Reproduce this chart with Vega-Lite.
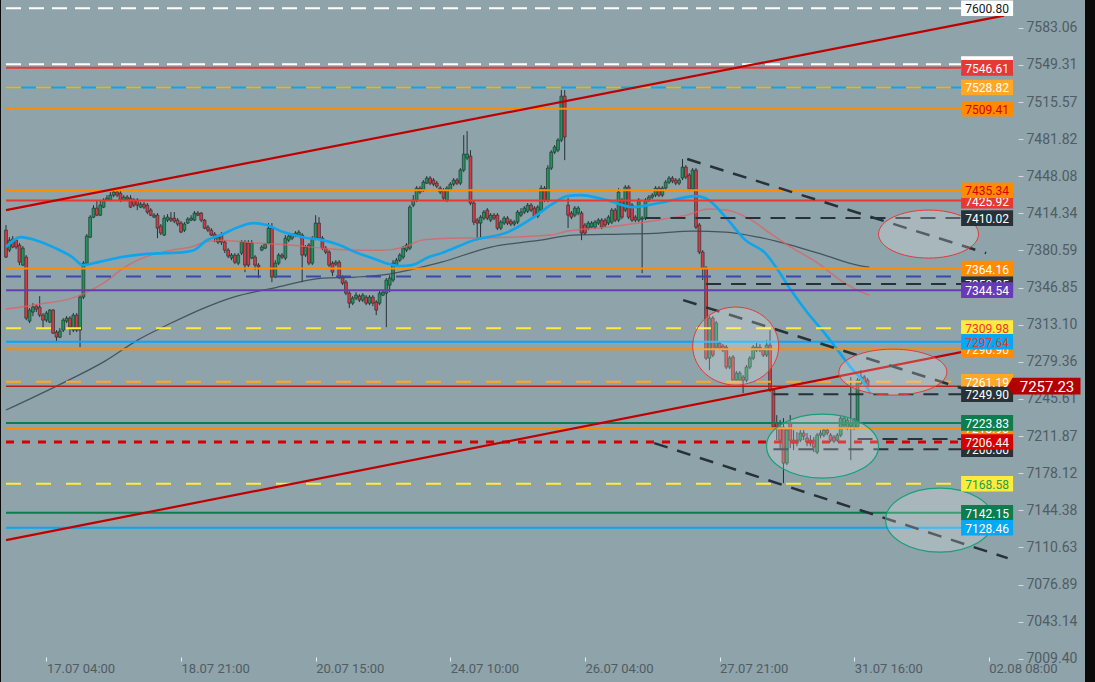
{
"$schema":"https://vega.github.io/schema/vega-lite/v6.json",
"width":1095,"height":682,
"autosize":{"type":"fit","contains":"padding"},
"padding":{"left":0,"top":0,"right":10,"bottom":0},
"background":"#0a0a0a",
"config":{"view":{"stroke":null,"fill":"#8fa3aa"}},
"resolve":{"scale":{"fill":"independent"}},
"datasets":{
"candles":[
{"i":0,"o":7399.1,"h":7403.7,"l":7373.7,"c":7374.6},
{"i":1,"o":7380.9,"h":7392.7,"l":7379.1,"c":7390.0},
{"i":2,"o":7390.9,"h":7393.7,"l":7382.7,"c":7383.7},
{"i":3,"o":7390.0,"h":7391.8,"l":7381.8,"c":7383.7},
{"i":4,"o":7385.5,"h":7387.3,"l":7367.3,"c":7370.0},
{"i":5,"o":7367.3,"h":7384.6,"l":7366.4,"c":7382.7},
{"i":6,"o":7374.6,"h":7376.4,"l":7317.3,"c":7319.1},
{"i":7,"o":7316.4,"h":7328.2,"l":7314.6,"c":7326.4},
{"i":8,"o":7324.6,"h":7332.7,"l":7320.9,"c":7329.1},
{"i":9,"o":7330.0,"h":7331.8,"l":7324.6,"c":7327.3},
{"i":10,"o":7329.1,"h":7339.1,"l":7320.0,"c":7321.8},
{"i":11,"o":7321.8,"h":7323.7,"l":7310.0,"c":7317.3},
{"i":12,"o":7317.3,"h":7325.5,"l":7315.5,"c":7323.7},
{"i":13,"o":7315.5,"h":7327.3,"l":7314.6,"c":7326.4},
{"i":14,"o":7326.4,"h":7327.3,"l":7304.6,"c":7305.5},
{"i":15,"o":7306.4,"h":7308.2,"l":7297.3,"c":7301.8},
{"i":16,"o":7301.8,"h":7310.0,"l":7300.9,"c":7307.3},
{"i":17,"o":7308.2,"h":7319.1,"l":7306.4,"c":7317.3},
{"i":18,"o":7316.4,"h":7320.9,"l":7314.6,"c":7319.1},
{"i":19,"o":7319.1,"h":7320.9,"l":7303.7,"c":7310.9},
{"i":20,"o":7308.2,"h":7323.7,"l":7306.4,"c":7321.8},
{"i":21,"o":7321.8,"h":7323.7,"l":7306.4,"c":7308.2},
{"i":22,"o":7308.2,"h":7340.0,"l":7292.7,"c":7338.2},
{"i":23,"o":7338.2,"h":7370.9,"l":7336.4,"c":7369.1},
{"i":24,"o":7369.1,"h":7395.5,"l":7368.2,"c":7393.7},
{"i":25,"o":7392.7,"h":7412.7,"l":7391.8,"c":7410.9},
{"i":26,"o":7410.9,"h":7421.8,"l":7410.0,"c":7419.1},
{"i":27,"o":7419.1,"h":7426.4,"l":7411.8,"c":7412.7},
{"i":28,"o":7412.7,"h":7426.4,"l":7411.8,"c":7421.8},
{"i":29,"o":7420.0,"h":7428.2,"l":7419.1,"c":7426.4},
{"i":30,"o":7426.4,"h":7430.9,"l":7425.5,"c":7428.2},
{"i":31,"o":7426.4,"h":7433.7,"l":7425.5,"c":7430.9},
{"i":32,"o":7430.9,"h":7435.5,"l":7429.1,"c":7433.7},
{"i":33,"o":7433.7,"h":7435.5,"l":7429.1,"c":7430.9},
{"i":34,"o":7432.7,"h":7434.6,"l":7424.6,"c":7426.4},
{"i":35,"o":7426.4,"h":7430.9,"l":7425.5,"c":7429.1},
{"i":36,"o":7429.1,"h":7430.9,"l":7425.5,"c":7427.3},
{"i":37,"o":7428.2,"h":7430.9,"l":7419.1,"c":7420.0},
{"i":38,"o":7426.4,"h":7428.2,"l":7420.0,"c":7421.8},
{"i":39,"o":7426.4,"h":7428.2,"l":7417.3,"c":7421.8},
{"i":40,"o":7420.0,"h":7424.6,"l":7419.1,"c":7422.7},
{"i":41,"o":7422.7,"h":7424.6,"l":7418.2,"c":7420.0},
{"i":42,"o":7421.8,"h":7423.7,"l":7413.7,"c":7415.5},
{"i":43,"o":7417.3,"h":7419.1,"l":7411.8,"c":7412.7},
{"i":44,"o":7410.9,"h":7414.6,"l":7410.0,"c":7412.7},
{"i":45,"o":7412.7,"h":7414.6,"l":7391.8,"c":7400.9},
{"i":46,"o":7402.7,"h":7404.6,"l":7394.6,"c":7396.4},
{"i":47,"o":7394.6,"h":7412.7,"l":7393.7,"c":7410.0},
{"i":48,"o":7408.2,"h":7413.7,"l":7406.4,"c":7410.9},
{"i":49,"o":7410.0,"h":7415.5,"l":7406.4,"c":7408.2},
{"i":50,"o":7410.0,"h":7415.5,"l":7405.5,"c":7407.3},
{"i":51,"o":7408.2,"h":7410.0,"l":7402.7,"c":7404.6},
{"i":52,"o":7405.5,"h":7407.3,"l":7396.4,"c":7397.3},
{"i":53,"o":7399.1,"h":7406.4,"l":7397.3,"c":7404.6},
{"i":54,"o":7405.5,"h":7410.9,"l":7404.6,"c":7409.1},
{"i":55,"o":7408.2,"h":7412.7,"l":7407.3,"c":7410.0},
{"i":56,"o":7408.2,"h":7416.4,"l":7407.3,"c":7414.6},
{"i":57,"o":7414.6,"h":7416.4,"l":7411.8,"c":7412.7},
{"i":58,"o":7414.6,"h":7415.5,"l":7406.4,"c":7408.2},
{"i":59,"o":7408.2,"h":7409.1,"l":7400.0,"c":7400.9},
{"i":60,"o":7401.8,"h":7403.7,"l":7397.3,"c":7399.1},
{"i":61,"o":7399.1,"h":7400.9,"l":7393.7,"c":7394.6},
{"i":62,"o":7395.5,"h":7397.3,"l":7388.2,"c":7391.8},
{"i":63,"o":7388.2,"h":7394.6,"l":7386.4,"c":7392.7},
{"i":64,"o":7394.6,"h":7397.3,"l":7385.5,"c":7388.2},
{"i":65,"o":7388.2,"h":7390.0,"l":7378.2,"c":7380.9},
{"i":66,"o":7380.9,"h":7382.7,"l":7373.7,"c":7375.5},
{"i":67,"o":7373.7,"h":7378.2,"l":7371.8,"c":7376.4},
{"i":68,"o":7376.4,"h":7378.2,"l":7368.2,"c":7370.0},
{"i":69,"o":7369.1,"h":7378.2,"l":7367.3,"c":7376.4},
{"i":70,"o":7378.2,"h":7390.0,"l":7376.4,"c":7388.2},
{"i":71,"o":7388.2,"h":7390.0,"l":7360.9,"c":7367.3},
{"i":72,"o":7387.3,"h":7390.0,"l":7365.5,"c":7367.3},
{"i":73,"o":7373.7,"h":7390.0,"l":7372.7,"c":7387.3},
{"i":74,"o":7374.6,"h":7376.4,"l":7362.7,"c":7367.3},
{"i":75,"o":7367.3,"h":7369.1,"l":7355.5,"c":7365.5},
{"i":76,"o":7380.9,"h":7385.5,"l":7380.0,"c":7383.7},
{"i":77,"o":7382.7,"h":7387.3,"l":7381.8,"c":7386.4},
{"i":78,"o":7387.3,"h":7405.5,"l":7386.4,"c":7400.9},
{"i":79,"o":7400.9,"h":7405.5,"l":7351.8,"c":7356.4},
{"i":80,"o":7356.4,"h":7371.8,"l":7355.5,"c":7369.1},
{"i":81,"o":7369.1,"h":7378.2,"l":7367.3,"c":7376.4},
{"i":82,"o":7376.4,"h":7378.2,"l":7372.7,"c":7374.6},
{"i":83,"o":7373.7,"h":7394.6,"l":7371.8,"c":7391.8},
{"i":84,"o":7390.0,"h":7395.5,"l":7388.2,"c":7393.7},
{"i":85,"o":7391.8,"h":7396.4,"l":7390.0,"c":7394.6},
{"i":86,"o":7396.4,"h":7398.2,"l":7392.7,"c":7394.6},
{"i":87,"o":7394.6,"h":7399.1,"l":7392.7,"c":7397.3},
{"i":88,"o":7394.6,"h":7396.4,"l":7351.8,"c":7376.4},
{"i":89,"o":7376.4,"h":7385.5,"l":7374.6,"c":7383.7},
{"i":90,"o":7385.5,"h":7387.3,"l":7367.3,"c":7369.1},
{"i":91,"o":7369.1,"h":7393.7,"l":7367.3,"c":7391.8},
{"i":92,"o":7391.8,"h":7412.7,"l":7390.0,"c":7405.5},
{"i":93,"o":7405.5,"h":7410.9,"l":7390.0,"c":7391.8},
{"i":94,"o":7391.8,"h":7393.7,"l":7380.9,"c":7382.7},
{"i":95,"o":7382.7,"h":7384.6,"l":7377.3,"c":7379.1},
{"i":96,"o":7379.1,"h":7380.9,"l":7365.5,"c":7367.3},
{"i":97,"o":7369.1,"h":7370.9,"l":7357.3,"c":7360.9},
{"i":98,"o":7368.2,"h":7371.8,"l":7366.4,"c":7370.0},
{"i":99,"o":7370.0,"h":7371.8,"l":7354.6,"c":7356.4},
{"i":100,"o":7356.4,"h":7358.2,"l":7349.1,"c":7350.9},
{"i":101,"o":7351.8,"h":7353.7,"l":7340.0,"c":7341.8},
{"i":102,"o":7341.8,"h":7343.7,"l":7328.2,"c":7332.7},
{"i":103,"o":7332.7,"h":7339.1,"l":7330.9,"c":7337.3},
{"i":104,"o":7337.3,"h":7342.7,"l":7335.5,"c":7340.0},
{"i":105,"o":7339.1,"h":7340.9,"l":7333.7,"c":7335.5},
{"i":106,"o":7335.5,"h":7341.8,"l":7333.7,"c":7340.0},
{"i":107,"o":7338.2,"h":7340.0,"l":7330.9,"c":7332.7},
{"i":108,"o":7332.7,"h":7340.0,"l":7330.9,"c":7338.2},
{"i":109,"o":7338.2,"h":7340.0,"l":7330.0,"c":7332.7},
{"i":110,"o":7333.7,"h":7335.5,"l":7321.8,"c":7326.4},
{"i":111,"o":7332.7,"h":7344.6,"l":7330.9,"c":7341.8},
{"i":112,"o":7340.0,"h":7344.6,"l":7339.1,"c":7342.7},
{"i":113,"o":7341.8,"h":7355.5,"l":7310.9,"c":7353.7},
{"i":114,"o":7349.1,"h":7358.2,"l":7342.7,"c":7355.5},
{"i":115,"o":7353.7,"h":7371.8,"l":7351.8,"c":7369.1},
{"i":116,"o":7367.3,"h":7373.7,"l":7365.5,"c":7371.8},
{"i":117,"o":7371.8,"h":7378.2,"l":7370.0,"c":7376.4},
{"i":118,"o":7374.6,"h":7384.6,"l":7372.7,"c":7382.7},
{"i":119,"o":7380.9,"h":7387.3,"l":7379.1,"c":7385.5},
{"i":120,"o":7382.7,"h":7421.8,"l":7380.9,"c":7420.0},
{"i":121,"o":7421.8,"h":7430.9,"l":7420.0,"c":7426.4},
{"i":122,"o":7426.4,"h":7439.1,"l":7424.6,"c":7437.3},
{"i":123,"o":7437.3,"h":7439.1,"l":7431.8,"c":7433.7},
{"i":124,"o":7435.5,"h":7444.6,"l":7433.7,"c":7442.7},
{"i":125,"o":7441.8,"h":7448.2,"l":7440.9,"c":7446.4},
{"i":126,"o":7446.4,"h":7448.2,"l":7440.0,"c":7441.8},
{"i":127,"o":7444.6,"h":7446.4,"l":7439.1,"c":7440.9},
{"i":128,"o":7441.8,"h":7443.7,"l":7437.3,"c":7439.1},
{"i":129,"o":7437.3,"h":7439.1,"l":7431.8,"c":7433.7},
{"i":130,"o":7435.5,"h":7437.3,"l":7426.4,"c":7428.2},
{"i":131,"o":7426.4,"h":7439.1,"l":7424.6,"c":7437.3},
{"i":132,"o":7435.5,"h":7442.7,"l":7434.6,"c":7440.9},
{"i":133,"o":7440.9,"h":7446.4,"l":7439.1,"c":7444.6},
{"i":134,"o":7444.6,"h":7446.4,"l":7440.0,"c":7441.8},
{"i":135,"o":7441.8,"h":7455.5,"l":7440.0,"c":7453.7},
{"i":136,"o":7453.7,"h":7485.5,"l":7451.8,"c":7468.2},
{"i":137,"o":7464.6,"h":7489.1,"l":7462.7,"c":7468.2},
{"i":138,"o":7466.4,"h":7471.8,"l":7421.8,"c":7423.7},
{"i":139,"o":7423.7,"h":7426.4,"l":7403.7,"c":7406.4},
{"i":140,"o":7408.2,"h":7410.0,"l":7390.0,"c":7405.5},
{"i":141,"o":7405.5,"h":7412.7,"l":7392.7,"c":7410.9},
{"i":142,"o":7410.0,"h":7417.3,"l":7408.2,"c":7415.5},
{"i":143,"o":7417.3,"h":7419.1,"l":7408.2,"c":7410.0},
{"i":144,"o":7408.2,"h":7414.6,"l":7406.4,"c":7412.7},
{"i":145,"o":7412.7,"h":7414.6,"l":7408.2,"c":7410.0},
{"i":146,"o":7412.7,"h":7414.6,"l":7399.1,"c":7400.9},
{"i":147,"o":7400.9,"h":7408.2,"l":7399.1,"c":7406.4},
{"i":148,"o":7405.5,"h":7411.8,"l":7403.7,"c":7410.0},
{"i":149,"o":7410.0,"h":7411.8,"l":7403.7,"c":7405.5},
{"i":150,"o":7407.3,"h":7409.1,"l":7402.7,"c":7404.6},
{"i":151,"o":7404.6,"h":7408.2,"l":7402.7,"c":7406.4},
{"i":152,"o":7406.4,"h":7417.3,"l":7404.6,"c":7415.5},
{"i":153,"o":7412.7,"h":7419.1,"l":7410.9,"c":7415.5},
{"i":154,"o":7415.5,"h":7420.9,"l":7413.7,"c":7419.1},
{"i":155,"o":7416.4,"h":7423.7,"l":7414.6,"c":7421.8},
{"i":156,"o":7421.8,"h":7423.7,"l":7415.5,"c":7417.3},
{"i":157,"o":7419.1,"h":7420.9,"l":7410.0,"c":7411.8},
{"i":158,"o":7411.8,"h":7421.8,"l":7410.0,"c":7420.0},
{"i":159,"o":7417.3,"h":7440.0,"l":7415.5,"c":7437.3},
{"i":160,"o":7437.3,"h":7439.1,"l":7424.6,"c":7426.4},
{"i":161,"o":7426.4,"h":7458.2,"l":7424.6,"c":7455.5},
{"i":162,"o":7455.5,"h":7471.8,"l":7453.7,"c":7470.0},
{"i":163,"o":7470.0,"h":7476.4,"l":7468.2,"c":7474.6},
{"i":164,"o":7471.8,"h":7482.7,"l":7470.0,"c":7480.9},
{"i":165,"o":7480.9,"h":7526.4,"l":7479.1,"c":7520.9},
{"i":166,"o":7520.9,"h":7526.4,"l":7462.7,"c":7483.7},
{"i":167,"o":7421.8,"h":7428.2,"l":7400.9,"c":7412.7},
{"i":168,"o":7414.6,"h":7416.4,"l":7409.1,"c":7410.9},
{"i":169,"o":7412.7,"h":7420.9,"l":7410.9,"c":7419.1},
{"i":170,"o":7414.6,"h":7420.9,"l":7412.7,"c":7419.1},
{"i":171,"o":7414.6,"h":7416.4,"l":7390.0,"c":7396.4},
{"i":172,"o":7403.7,"h":7405.5,"l":7394.6,"c":7396.4},
{"i":173,"o":7400.9,"h":7407.3,"l":7399.1,"c":7405.5},
{"i":174,"o":7401.8,"h":7407.3,"l":7400.9,"c":7405.5},
{"i":175,"o":7401.8,"h":7408.2,"l":7400.0,"c":7406.4},
{"i":176,"o":7405.5,"h":7410.0,"l":7403.7,"c":7408.2},
{"i":177,"o":7408.2,"h":7410.0,"l":7400.0,"c":7401.8},
{"i":178,"o":7408.2,"h":7410.0,"l":7401.8,"c":7403.7},
{"i":179,"o":7405.5,"h":7412.7,"l":7403.7,"c":7410.9},
{"i":180,"o":7406.4,"h":7419.1,"l":7404.6,"c":7417.3},
{"i":181,"o":7417.3,"h":7419.1,"l":7406.4,"c":7408.2},
{"i":182,"o":7408.2,"h":7437.3,"l":7406.4,"c":7433.7},
{"i":183,"o":7426.4,"h":7428.2,"l":7409.1,"c":7410.9},
{"i":184,"o":7417.3,"h":7440.0,"l":7415.5,"c":7438.2},
{"i":185,"o":7438.2,"h":7440.0,"l":7409.1,"c":7410.9},
{"i":186,"o":7421.8,"h":7423.7,"l":7406.4,"c":7408.2},
{"i":187,"o":7410.9,"h":7412.7,"l":7406.4,"c":7408.2},
{"i":188,"o":7408.2,"h":7428.2,"l":7406.4,"c":7426.4},
{"i":189,"o":7409.1,"h":7411.8,"l":7360.0,"c":7410.0},
{"i":190,"o":7410.0,"h":7428.2,"l":7408.2,"c":7426.4},
{"i":191,"o":7426.4,"h":7430.9,"l":7424.6,"c":7429.1},
{"i":192,"o":7429.1,"h":7432.7,"l":7427.3,"c":7430.9},
{"i":193,"o":7430.9,"h":7439.1,"l":7429.1,"c":7437.3},
{"i":194,"o":7437.3,"h":7439.1,"l":7429.1,"c":7430.9},
{"i":195,"o":7430.9,"h":7439.1,"l":7429.1,"c":7437.3},
{"i":196,"o":7437.3,"h":7444.6,"l":7435.5,"c":7442.7},
{"i":197,"o":7442.7,"h":7448.2,"l":7440.9,"c":7446.4},
{"i":198,"o":7446.4,"h":7448.2,"l":7441.8,"c":7443.7},
{"i":199,"o":7444.6,"h":7446.4,"l":7440.0,"c":7441.8},
{"i":200,"o":7441.8,"h":7446.4,"l":7440.0,"c":7444.6},
{"i":201,"o":7446.4,"h":7463.7,"l":7444.6,"c":7456.4},
{"i":202,"o":7456.4,"h":7458.2,"l":7445.5,"c":7447.3},
{"i":203,"o":7449.1,"h":7450.9,"l":7434.6,"c":7436.4},
{"i":204,"o":7436.4,"h":7455.5,"l":7434.6,"c":7453.7},
{"i":205,"o":7453.7,"h":7455.5,"l":7400.0,"c":7401.8},
{"i":206,"o":7403.7,"h":7405.5,"l":7377.3,"c":7379.1},
{"i":207,"o":7379.1,"h":7380.9,"l":7353.7,"c":7364.6},
{"i":208,"o":7364.6,"h":7366.4,"l":7280.9,"c":7282.7},
{"i":209,"o":7282.7,"h":7320.9,"l":7271.8,"c":7319.1},
{"i":210,"o":7319.1,"h":7320.9,"l":7283.7,"c":7285.5},
{"i":211,"o":7292.7,"h":7316.4,"l":7290.9,"c":7314.6},
{"i":212,"o":7296.4,"h":7298.2,"l":7290.0,"c":7291.8},
{"i":213,"o":7293.7,"h":7295.5,"l":7288.2,"c":7290.0},
{"i":214,"o":7292.7,"h":7294.6,"l":7272.7,"c":7274.6},
{"i":215,"o":7274.6,"h":7284.6,"l":7272.7,"c":7282.7},
{"i":216,"o":7283.7,"h":7285.5,"l":7260.9,"c":7262.7},
{"i":217,"o":7262.7,"h":7270.9,"l":7260.9,"c":7269.1},
{"i":218,"o":7262.7,"h":7270.9,"l":7260.9,"c":7269.1},
{"i":219,"o":7265.5,"h":7267.3,"l":7250.9,"c":7262.7},
{"i":220,"o":7262.7,"h":7276.4,"l":7260.9,"c":7274.6},
{"i":221,"o":7274.6,"h":7284.6,"l":7272.7,"c":7282.7},
{"i":222,"o":7282.7,"h":7294.6,"l":7280.9,"c":7292.7},
{"i":223,"o":7290.0,"h":7296.4,"l":7288.2,"c":7292.7},
{"i":224,"o":7292.7,"h":7295.5,"l":7288.2,"c":7290.0},
{"i":225,"o":7290.0,"h":7291.8,"l":7283.7,"c":7285.5},
{"i":226,"o":7285.5,"h":7299.1,"l":7283.7,"c":7294.6},
{"i":227,"o":7294.6,"h":7308.2,"l":7251.8,"c":7253.7},
{"i":228,"o":7253.7,"h":7255.5,"l":7218.2,"c":7220.0},
{"i":229,"o":7223.7,"h":7230.9,"l":7208.2,"c":7220.0},
{"i":230,"o":7220.0,"h":7226.4,"l":7199.1,"c":7208.2},
{"i":231,"o":7220.0,"h":7228.2,"l":7169.1,"c":7187.3},
{"i":232,"o":7187.3,"h":7219.1,"l":7185.5,"c":7217.3},
{"i":233,"o":7223.7,"h":7230.9,"l":7200.9,"c":7208.2},
{"i":234,"o":7208.2,"h":7217.3,"l":7199.1,"c":7205.5},
{"i":235,"o":7205.5,"h":7215.5,"l":7202.7,"c":7208.2},
{"i":236,"o":7208.2,"h":7217.3,"l":7206.4,"c":7214.6},
{"i":237,"o":7214.6,"h":7217.3,"l":7208.2,"c":7211.8},
{"i":238,"o":7210.0,"h":7214.6,"l":7202.7,"c":7206.4},
{"i":239,"o":7208.2,"h":7212.7,"l":7202.7,"c":7205.5},
{"i":240,"o":7208.2,"h":7210.9,"l":7197.3,"c":7201.8},
{"i":241,"o":7197.3,"h":7214.6,"l":7195.5,"c":7212.7},
{"i":242,"o":7212.7,"h":7217.3,"l":7210.0,"c":7214.6},
{"i":243,"o":7212.7,"h":7219.1,"l":7210.9,"c":7217.3},
{"i":244,"o":7217.3,"h":7219.1,"l":7212.7,"c":7214.6},
{"i":245,"o":7212.7,"h":7214.6,"l":7206.4,"c":7208.2},
{"i":246,"o":7210.9,"h":7212.7,"l":7205.5,"c":7207.3},
{"i":247,"o":7208.2,"h":7214.6,"l":7206.4,"c":7212.7},
{"i":248,"o":7212.7,"h":7230.0,"l":7210.9,"c":7228.2},
{"i":249,"o":7221.8,"h":7230.0,"l":7219.1,"c":7228.2},
{"i":250,"o":7219.1,"h":7228.2,"l":7217.3,"c":7226.4},
{"i":251,"o":7220.9,"h":7265.5,"l":7190.0,"c":7223.7},
{"i":252,"o":7219.1,"h":7228.2,"l":7217.3,"c":7226.4},
{"i":253,"o":7220.0,"h":7264.6,"l":7218.2,"c":7262.7},
{"i":254,"o":7260.0,"h":7271.8,"l":7258.2,"c":7265.5},
{"i":255,"o":7265.5,"h":7267.3,"l":7258.2,"c":7260.0},
{"i":256,"o":7262.7,"h":7264.6,"l":7255.5,"c":7257.23}
],
"labelsBack":[
{"v":7550.0,"t":"7549.95","k":"white"},
{"v":7425.92,"t":"7425.92","k":"red"},
{"v":7350.05,"t":"7350.05","k":"dark"},
{"v":7290.90,"t":"7290.90","k":"orange"},
{"v":7218.90,"t":"7218.90","k":"orange"},
{"v":7200.00,"t":"7200.00","k":"dark"}
],
"labelsFront":[
{"v":7600.80,"t":"7600.80","k":"white"},
{"v":7546.61,"t":"7546.61","k":"red"},
{"v":7528.82,"t":"7528.82","k":"lorange"},
{"v":7509.41,"t":"7509.41","k":"orange_r"},
{"v":7435.34,"t":"7435.34","k":"orange_r"},
{"v":7410.02,"t":"7410.02","k":"dark"},
{"v":7364.16,"t":"7364.16","k":"orange"},
{"v":7344.54,"t":"7344.54","k":"purple"},
{"v":7309.98,"t":"7309.98","k":"yellow_r"},
{"v":7297.64,"t":"7297.64","k":"blue_r"},
{"v":7261.19,"t":"7261.19","k":"lorange"},
{"v":7249.90,"t":"7249.90","k":"dark"},
{"v":7223.83,"t":"7223.83","k":"green"},
{"v":7206.44,"t":"7206.44","k":"red2"},
{"v":7168.58,"t":"7168.58","k":"yellow_g"},
{"v":7142.15,"t":"7142.15","k":"green"},
{"v":7128.46,"t":"7128.46","k":"blue"}
]
},
"layer":[
{"data":{"name":"candles"},
 "mark":{"type":"rule","color":"#263238","strokeWidth":1},
 "encoding":{
  "x":{"field":"i","type":"quantitative","scale":{"domain":[0,319.1],"nice":false,"zero":false},
   "axis":{"orient":"bottom","offset":-25,"values":[12,52,92,132,172,212,252,292],
    "labelExpr":"datum.value==12?'17.07 04:00':datum.value==52?'18.07 21:00':datum.value==92?'20.07 15:00':datum.value==132?'24.07 10:00':datum.value==172?'26.07 04:00':datum.value==212?'27.07 21:00':datum.value==252?'31.07 16:00':'02.08 08:00'",
    "title":null,"domain":false,"grid":false,"tickSize":4,"tickColor":"#e8eef0","labelColor":"#505c63","labelFont":"Roboto","labelFontSize":13,"labelAlign":"left","labelBaseline":"top","labelPadding":1,"labelFlush":false,"labelOverlap":false}},
  "y":{"field":"l","type":"quantitative","scale":{"domain":[6988.3,7608.3],"nice":false,"zero":false},
   "axis":{"orient":"right","offset":-67,"values":[7583.06,7549.31,7515.57,7481.82,7448.08,7414.34,7380.59,7346.85,7313.10,7279.36,7245.61,7211.87,7178.12,7144.38,7110.63,7076.89,7043.14,7009.40],
    "format":".2f","title":null,"domain":false,"grid":false,"tickSize":5,"tickColor":"#d5dde0","labelColor":"#505c63","labelFont":"Roboto","labelFontSize":14,"labelPadding":3,"labelFlush":false,"labelOverlap":false}},
  "y2":{"field":"h"}
 }},
{"data":{"name":"candles"},
 "mark":{"type":"bar","width":2.8,"stroke":"#263238","strokeWidth":0.7},
 "encoding":{
  "x":{"field":"i","type":"quantitative"},
  "y":{"field":"o","type":"quantitative"},
  "y2":{"field":"c"},
  "fill":{"condition":{"test":"datum.c >= datum.o","value":"#1e965a"},"value":"#d93a3f"}
 }},
{"data":{"values":[
 {"i":0,"p":7235.5},{"i":15.6,"p":7258.2},{"i":29.4,"p":7280.0},{"i":39.1,"p":7299.1},{"i":49.1,"p":7314.6},{"i":58.8,"p":7328.2},{"i":67.6,"p":7338.2},{"i":79.4,"p":7346.4},{"i":94.1,"p":7355.5},{"i":103.8,"p":7356.4},{"i":113.8,"p":7359.1},{"i":123.5,"p":7365.5},{"i":129.4,"p":7370.0},{"i":144.1,"p":7383.7},{"i":158.8,"p":7390.0},{"i":168.5,"p":7394.6},{"i":183.2,"p":7395.5},{"i":194.1,"p":7396.4},{"i":203.8,"p":7398.2},{"i":213.8,"p":7397.3},{"i":223.5,"p":7392.7},{"i":233.2,"p":7385.5},{"i":243.2,"p":7376.4},{"i":252.9,"p":7367.3},{"i":256.5,"p":7365.5}]},
 "mark":{"type":"line","color":"#37474f","strokeWidth":1.2,"opacity":0.85,"interpolate":"monotone"},
 "encoding":{"x":{"field":"i","type":"quantitative"},"y":{"field":"p","type":"quantitative"}}},
{"data":{"values":[
 {"i":0,"p":7327.3},{"i":9.7,"p":7331.8},{"i":19.7,"p":7337.3},{"i":23.5,"p":7341.8},{"i":29.4,"p":7351.8},{"i":35.3,"p":7365.5},{"i":42.1,"p":7375.5},{"i":49.1,"p":7380.9},{"i":55.0,"p":7383.7},{"i":58.8,"p":7388.2},{"i":63.8,"p":7390.0},{"i":74.4,"p":7387.3},{"i":84.4,"p":7385.5},{"i":94.1,"p":7382.7},{"i":103.8,"p":7380.9},{"i":111.8,"p":7380.9},{"i":118.5,"p":7383.7},{"i":123.5,"p":7390.0},{"i":132.4,"p":7391.8},{"i":149.1,"p":7392.7},{"i":161.8,"p":7394.6},{"i":166.8,"p":7398.2},{"i":178.5,"p":7401.8},{"i":188.2,"p":7405.5},{"i":197.1,"p":7410.0},{"i":202.1,"p":7412.7},{"i":208.8,"p":7418.2},{"i":213.8,"p":7417.3},{"i":221.5,"p":7408.2},{"i":226.5,"p":7397.3},{"i":233.2,"p":7383.7},{"i":241.2,"p":7369.1},{"i":247.9,"p":7353.7},{"i":252.9,"p":7344.6},{"i":256.5,"p":7340.0}]},
 "mark":{"type":"line","color":"#e06060","strokeWidth":1.5,"opacity":0.75,"interpolate":"monotone"},
 "encoding":{"x":{"field":"i","type":"quantitative"},"y":{"field":"p","type":"quantitative"}}},
{"data":{"values":[
 {"i":0,"p":7383.7},{"i":4.4,"p":7392.7},{"i":8.8,"p":7390.0},{"i":14.7,"p":7382.7},{"i":19.7,"p":7374.6},{"i":22.9,"p":7367.3},{"i":27.4,"p":7370.0},{"i":34.4,"p":7374.6},{"i":41.2,"p":7377.3},{"i":47.1,"p":7378.2},{"i":52.9,"p":7379.1},{"i":55.9,"p":7380.9},{"i":59.7,"p":7390.0},{"i":63.8,"p":7394.6},{"i":67.6,"p":7400.0},{"i":73.5,"p":7405.5},{"i":77.4,"p":7403.7},{"i":82.4,"p":7397.3},{"i":88.2,"p":7392.7},{"i":94.1,"p":7390.0},{"i":99.1,"p":7385.5},{"i":103.8,"p":7379.1},{"i":108.8,"p":7373.7},{"i":113.8,"p":7368.2},{"i":116.8,"p":7366.4},{"i":120.6,"p":7367.3},{"i":125.6,"p":7374.6},{"i":129.4,"p":7378.2},{"i":139.1,"p":7390.0},{"i":149.1,"p":7397.3},{"i":156.8,"p":7410.9},{"i":161.8,"p":7421.8},{"i":166.8,"p":7430.0},{"i":170.6,"p":7430.9},{"i":178.5,"p":7426.4},{"i":186.2,"p":7420.0},{"i":194.1,"p":7423.7},{"i":205.0,"p":7430.0},{"i":208.8,"p":7426.4},{"i":213.8,"p":7410.9},{"i":219.7,"p":7390.0},{"i":225.6,"p":7378.2},{"i":229.4,"p":7362.7},{"i":233.2,"p":7344.6},{"i":238.2,"p":7323.7},{"i":243.2,"p":7305.5},{"i":247.1,"p":7290.0},{"i":250.9,"p":7274.6},{"i":255.0,"p":7260.0},{"i":256.8,"p":7250.9}]},
 "mark":{"type":"line","color":"#0ea5ec","strokeWidth":2.6,"interpolate":"monotone"},
 "encoding":{"x":{"field":"i","type":"quantitative"},"y":{"field":"p","type":"quantitative"}}},
{"data":{"values":[{"v":7600.80,"a":0,"b":284},{"v":7550.0,"a":0,"b":284}]},
 "mark":{"type":"rule","color":"#ffffff","strokeWidth":2,"strokeDash":[15,8]},
 "encoding":{"x":{"field":"a","type":"quantitative"},"x2":{"field":"b"},"y":{"field":"v","type":"quantitative"}}},
{"data":{"values":[{"v":7546.61,"a":0,"b":284},{"v":7425.92,"a":0,"b":284}]},
 "mark":{"type":"rule","color":"#e53935","strokeWidth":2},
 "encoding":{"x":{"field":"a","type":"quantitative"},"x2":{"field":"b"},"y":{"field":"v","type":"quantitative"}}},
{"data":{"values":[{"v":7528.82,"a":0,"b":284},{"v":7297.64,"a":0,"b":284},{"v":7128.46,"a":0,"b":284}]},
 "mark":{"type":"rule","color":"#03a9f4","strokeWidth":2},
 "encoding":{"x":{"field":"a","type":"quantitative"},"x2":{"field":"b"},"y":{"field":"v","type":"quantitative"}}},
{"data":{"values":[{"v":7528.82,"a":0,"b":284},{"v":7261.19,"a":0,"b":284}]},
 "mark":{"type":"rule","color":"#ffa726","strokeWidth":2,"strokeDash":[15,15]},
 "encoding":{"x":{"field":"a","type":"quantitative"},"x2":{"field":"b"},"y":{"field":"v","type":"quantitative"}}},
{"data":{"values":[{"v":7509.41,"a":0,"b":284},{"v":7435.34,"a":0,"b":284},{"v":7364.16,"a":0,"b":284},{"v":7290.90,"a":0,"b":284},{"v":7218.90,"a":0,"b":284}]},
 "mark":{"type":"rule","color":"#ff8c00","strokeWidth":2},
 "encoding":{"x":{"field":"a","type":"quantitative"},"x2":{"field":"b"},"y":{"field":"v","type":"quantitative"}}},
{"data":{"values":[{"v":7356.9,"a":0,"b":284}]},
 "mark":{"type":"rule","color":"#3949ab","strokeWidth":2,"strokeDash":[15,15]},
 "encoding":{"x":{"field":"a","type":"quantitative"},"x2":{"field":"b"},"y":{"field":"v","type":"quantitative"}}},
{"data":{"values":[{"v":7344.54,"a":0,"b":284}]},
 "mark":{"type":"rule","color":"#673ab7","strokeWidth":2},
 "encoding":{"x":{"field":"a","type":"quantitative"},"x2":{"field":"b"},"y":{"field":"v","type":"quantitative"}}},
{"data":{"values":[{"v":7309.98,"a":0,"b":284},{"v":7168.58,"a":0,"b":284}]},
 "mark":{"type":"rule","color":"#ffeb3b","strokeWidth":2,"strokeDash":[15,15]},
 "encoding":{"x":{"field":"a","type":"quantitative"},"x2":{"field":"b"},"y":{"field":"v","type":"quantitative"}}},
{"data":{"values":[{"v":7223.83,"a":0,"b":284},{"v":7142.15,"a":0,"b":284}]},
 "mark":{"type":"rule","color":"#0b7d4f","strokeWidth":2},
 "encoding":{"x":{"field":"a","type":"quantitative"},"x2":{"field":"b"},"y":{"field":"v","type":"quantitative"}}},
{"data":{"values":[{"v":7206.44,"a":0,"b":284}]},
 "mark":{"type":"rule","color":"#d50000","strokeWidth":3,"strokeDash":[8,8]},
 "encoding":{"x":{"field":"a","type":"quantitative"},"x2":{"field":"b"},"y":{"field":"v","type":"quantitative"}}},
{"data":{"values":[{"v":7410.02,"a":190,"b":284},{"v":7350.05,"a":208,"b":284},{"v":7249.90,"a":228,"b":284},{"v":7209.1,"a":253,"b":284},{"v":7200.0,"a":228,"b":284}]},
 "mark":{"type":"rule","color":"#263238","strokeWidth":2,"strokeDash":[15,10]},
 "encoding":{"x":{"field":"a","type":"quantitative"},"x2":{"field":"b"},"y":{"field":"v","type":"quantitative"}}},
{"data":{"values":[{"v":7257.23,"a":0,"b":297.6}]},
 "mark":{"type":"rule","color":"#b71c1c","strokeWidth":1.6},
 "encoding":{"x":{"field":"a","type":"quantitative"},"x2":{"field":"b"},"y":{"field":"v","type":"quantitative"}}},
{"data":{"values":[{"id":"up","i":0,"p":7417.3},{"id":"up","i":296.5,"p":7594.1},{"id":"dn","i":0,"p":7117.3},{"id":"dn","i":283.8,"p":7288.2}]},
 "mark":{"type":"line","color":"#c00000","strokeWidth":2.2},
 "encoding":{"x":{"field":"i","type":"quantitative"},"y":{"field":"p","type":"quantitative"},"detail":{"field":"id"}}},
{"data":{"values":[{"id":"a","i":202.4,"p":7463.7},{"id":"a","i":291.2,"p":7378.2},{"id":"b","i":201.2,"p":7335.5},{"id":"b","i":283.8,"p":7255.5},{"id":"c","i":192.6,"p":7205.5},{"id":"c","i":297.6,"p":7100.9}]},
 "mark":{"type":"line","color":"#263238","strokeWidth":2.5,"strokeDash":[14,10]},
 "encoding":{"x":{"field":"i","type":"quantitative"},"y":{"field":"p","type":"quantitative"},"detail":{"field":"id"}}},
{"data":{"values":[{"i":274.1,"p":7395.5}]},
 "mark":{"type":"point","shape":"M-1,0C-1,-0.265 -0.552,-0.48 0,-0.48C0.552,-0.48 1,-0.265 1,0C1,0.265 0.552,0.48 0,0.48C-0.552,0.48 -1,0.265 -1,0Z","size":10000,"filled":true,"fill":"#ffffff","fillOpacity":0.22,"stroke":"#e53935","strokeWidth":1,"strokeOpacity":1,"opacity":1},
 "encoding":{"x":{"field":"i","type":"quantitative"},"y":{"field":"p","type":"quantitative"}}},
{"data":{"values":[{"i":216.8,"p":7293.7}]},
 "mark":{"type":"point","shape":"M-1,0C-1,-0.501 -0.552,-0.907 0,-0.907C0.552,-0.907 1,-0.501 1,0C1,0.501 0.552,0.907 0,0.907C-0.552,0.907 -1,0.501 -1,0Z","size":7396,"filled":true,"fill":"#ffffff","fillOpacity":0.22,"stroke":"#e53935","strokeWidth":1,"strokeOpacity":1,"opacity":1},
 "encoding":{"x":{"field":"i","type":"quantitative"},"y":{"field":"p","type":"quantitative"}}},
{"data":{"values":[{"i":263.5,"p":7270.0}]},
 "mark":{"type":"point","shape":"M-1,0C-1,-0.235 -0.552,-0.426 0,-0.426C0.552,-0.426 1,-0.235 1,0C1,0.235 0.552,0.426 0,0.426C-0.552,0.426 -1,0.235 -1,0Z","size":11664,"filled":true,"fill":"#ffffff","fillOpacity":0.22,"stroke":"#e53935","strokeWidth":1,"strokeOpacity":1,"opacity":1},
 "encoding":{"x":{"field":"i","type":"quantitative"},"y":{"field":"p","type":"quantitative"}}},
{"data":{"values":[{"i":242.6,"p":7202.7}]},
 "mark":{"type":"point","shape":"M-1,0C-1,-0.315 -0.552,-0.571 0,-0.571C0.552,-0.571 1,-0.315 1,0C1,0.315 0.552,0.571 0,0.571C-0.552,0.571 -1,0.315 -1,0Z","size":12544,"filled":true,"fill":"#ffffff","fillOpacity":0.22,"stroke":"#16a07a","strokeWidth":1.2,"strokeOpacity":1,"opacity":1},
 "encoding":{"x":{"field":"i","type":"quantitative"},"y":{"field":"p","type":"quantitative"}}},
{"data":{"values":[{"i":277.4,"p":7135.5}]},
 "mark":{"type":"point","shape":"M-1,0C-1,-0.327 -0.552,-0.593 0,-0.593C0.552,-0.593 1,-0.327 1,0C1,0.327 0.552,0.593 0,0.593C-0.552,0.593 -1,0.327 -1,0Z","size":11664,"filled":true,"fill":"#ffffff","fillOpacity":0.22,"stroke":"#16a07a","strokeWidth":1.2,"strokeOpacity":1,"opacity":1},
 "encoding":{"x":{"field":"i","type":"quantitative"},"y":{"field":"p","type":"quantitative"}}},
{"data":{"name":"labelsBack"},
 "mark":{"type":"point","shape":"M-1,-0.3L1,-0.3L1,0.3L-1,0.3Z","size":2704,"filled":true,"opacity":1},
 "encoding":{"x":{"datum":291.5,"type":"quantitative"},"y":{"field":"v","type":"quantitative"},
  "fill":{"field":"k","type":"nominal","legend":null,"scale":{"domain":["white","red","lorange","orange_r","orange","dark","purple","yellow_r","blue_r","green","red2","yellow_g","blue"],"range":["#ffffff","#e53935","#ffa726","#ff8c00","#ff8c00","#263238","#673ab7","#ffeb3b","#03a9f4","#0b7d4f","#d50000","#ffeb3b","#03a9f4"]}}}},
{"data":{"name":"labelsBack"},
 "mark":{"type":"text","font":"Roboto","fontSize":12,"align":"center","baseline":"middle","dy":1},
 "encoding":{"x":{"datum":291.5,"type":"quantitative"},"y":{"field":"v","type":"quantitative"},"text":{"field":"t"},
  "fill":{"field":"k","type":"nominal","legend":null,"scale":{"domain":["white","red","lorange","orange_r","orange","dark","purple","yellow_r","blue_r","green","red2","yellow_g","blue"],"range":["#131722","#ffffff","#ffffff","#d50000","#ffffff","#ffffff","#ffffff","#e53935","#e53935","#ffffff","#ffffff","#1e9e4f","#ffffff"]}}}},
{"data":{"name":"labelsFront"},
 "mark":{"type":"point","shape":"M-1,-0.3L1,-0.3L1,0.3L-1,0.3Z","size":2704,"filled":true,"opacity":1},
 "encoding":{"x":{"datum":291.5,"type":"quantitative"},"y":{"field":"v","type":"quantitative"},
  "fill":{"field":"k","type":"nominal","legend":null,"scale":{"domain":["white","red","lorange","orange_r","orange","dark","purple","yellow_r","blue_r","green","red2","yellow_g","blue"],"range":["#ffffff","#e53935","#ffa726","#ff8c00","#ff8c00","#263238","#673ab7","#ffeb3b","#03a9f4","#0b7d4f","#d50000","#ffeb3b","#03a9f4"]}}}},
{"data":{"name":"labelsFront"},
 "mark":{"type":"text","font":"Roboto","fontSize":12,"align":"center","baseline":"middle","dy":1},
 "encoding":{"x":{"datum":291.5,"type":"quantitative"},"y":{"field":"v","type":"quantitative"},"text":{"field":"t"},
  "fill":{"field":"k","type":"nominal","legend":null,"scale":{"domain":["white","red","lorange","orange_r","orange","dark","purple","yellow_r","blue_r","green","red2","yellow_g","blue"],"range":["#131722","#ffffff","#ffffff","#d50000","#ffffff","#ffffff","#ffffff","#e53935","#e53935","#ffffff","#ffffff","#1e9e4f","#ffffff"]}}}},
{"data":{"values":[{"v":7257.23,"t":"7257.23"}]},
 "mark":{"type":"point","shape":"M-1,0L-0.86,-0.23L1,-0.23L1,0.23L-0.86,0.23Z","size":5329,"filled":true,"fill":"#b30000","opacity":1},
 "encoding":{"x":{"datum":308.4,"type":"quantitative"},"y":{"field":"v","type":"quantitative"}}},
{"data":{"values":[{"v":7257.23,"t":"7257.23"}]},
 "mark":{"type":"text","font":"Roboto","fontSize":15,"align":"center","baseline":"middle","dy":1,"fill":"#ffffff"},
 "encoding":{"x":{"datum":309.3,"type":"quantitative"},"y":{"field":"v","type":"quantitative"},"text":{"field":"t"}}}
]
}
